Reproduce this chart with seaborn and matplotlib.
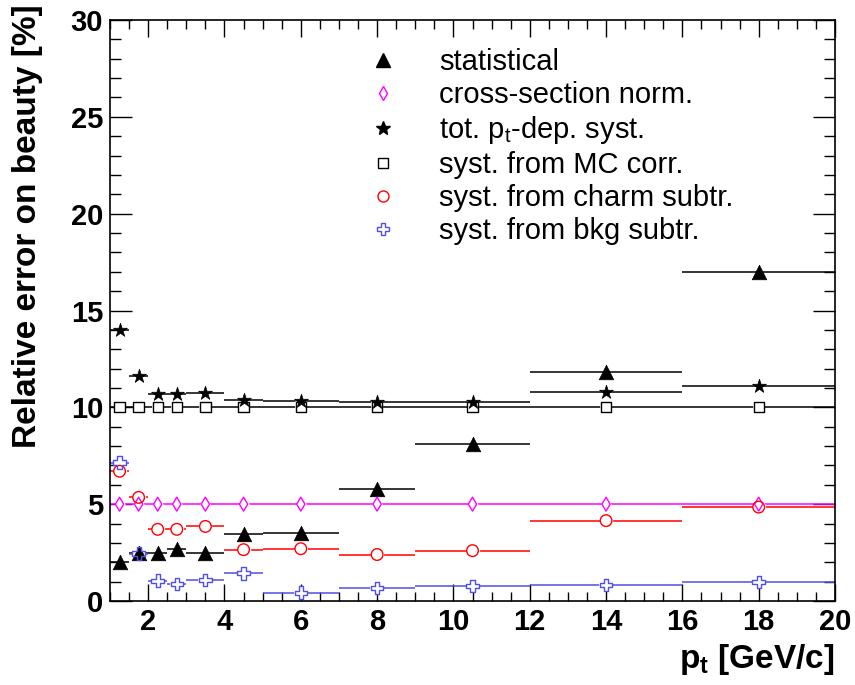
import numpy as np
import pandas as pd
import seaborn as sns
import matplotlib.pyplot as plt
from matplotlib.lines import Line2D
from matplotlib.ticker import MultipleLocator

# bins in pt [GeV/c]
pt_lo = [1.0, 1.5, 2.0, 2.5, 3.0, 4.0, 5.0, 7.0, 9.0, 12.0, 16.0]
pt_hi = [1.5, 2.0, 2.5, 3.0, 4.0, 5.0, 7.0, 9.0, 12.0, 16.0, 20.0]
pt = [1.25, 1.75, 2.25, 2.75, 3.5, 4.5, 6.0, 8.0, 10.5, 14.0, 18.0]

# relative errors [%]
stat = [2.0, 2.5, 2.5, 2.7, 2.5, 3.45, 3.5, 5.8, 8.1, 11.85, 17.0]
xsec_norm = [5.0, 5.0, 5.0, 5.0, 5.0, 5.0, 5.0, 5.0, 5.0, 5.0, 5.0]
tot_syst = [14.0, 11.6, 10.7, 10.7, 10.75, 10.4, 10.35, 10.3, 10.3, 10.8, 11.1]
mc_corr = [10.0, 10.0, 10.0, 10.0, 10.0, 10.0, 10.0, 10.0, 10.0, 10.0, 10.0]
charm_sub = [6.7, 5.35, 3.7, 3.7, 3.85, 2.65, 2.7, 2.4, 2.6, 4.15, 4.85]
bkg_sub = [7.15, 2.45, 1.05, 0.88, 1.08, 1.43, 0.43, 0.68, 0.76, 0.82, 0.97]

labels = ['statistical', 'cross-section norm.', r'tot. p$_{\mathrm{t}}$-dep. syst.',
          'syst. from MC corr.', 'syst. from charm subtr.', 'syst. from bkg subtr.']

# (values, marker, size, color, filled)
series = [
    (stat, '^', 110, 'black', True),
    (xsec_norm, 'd', 50, '#ff00ff', False),
    (tot_syst, '*', 110, 'black', True),
    (mc_corr, 's', 55, 'black', False),
    (charm_sub, 'o', 70, '#ff0000', False),
    (bkg_sub, 'P', 80, '#5050e6', False),
]

sns.set_theme(style='ticks')
plt.rcParams['font.family'] = ['Liberation Sans', 'DejaVu Sans']
plt.rcParams['mathtext.fontset'] = 'custom'
plt.rcParams['mathtext.rm'] = 'Liberation Sans'
plt.rcParams['mathtext.bf'] = 'Liberation Sans:bold'
plt.rcParams['text.color'] = 'black'
plt.rcParams['axes.labelcolor'] = 'black'

fig = plt.figure(figsize=(8.55, 6.85), dpi=100)
ax = fig.add_axes([110 / 855, 84 / 685, 725 / 855, 581 / 685])

handles = []
for (vals, mk, s, col, filled), lab in zip(series, labels):
    df = pd.DataFrame({'pt': pt, 'lo': pt_lo, 'hi': pt_hi, 'err': vals})
    ax.hlines(df['err'], df['lo'], df['hi'], colors=col, linewidth=1.1, zorder=2)
    if filled:
        sns.scatterplot(data=df, x='pt', y='err', marker=mk, s=s, color=col,
                        edgecolor=col, linewidth=0.5, zorder=4, ax=ax)
    else:
        # white body hides the bin line, outline drawn on top of everything
        sns.scatterplot(data=df, x='pt', y='err', marker=mk, s=s, color='white',
                        edgecolor='white', linewidth=1.2, zorder=3, ax=ax)
        sns.scatterplot(data=df, x='pt', y='err', marker=mk, s=s, color=col,
                        facecolor='none', edgecolor=col, linewidth=1.0, zorder=5, ax=ax)
    handles.append(Line2D([], [], linestyle='none', marker=mk, markersize=np.sqrt(s) * 0.95,
                          color=col, markerfacecolor=col if filled else 'none',
                          markeredgewidth=1.0, label=lab))

ax.set_xlim(1, 20)
ax.set_ylim(0, 30)
ax.xaxis.set_major_locator(MultipleLocator(2))
ax.xaxis.set_minor_locator(MultipleLocator(0.5))
ax.yaxis.set_major_locator(MultipleLocator(5))
ax.yaxis.set_minor_locator(MultipleLocator(1))
ax.tick_params(axis='both', which='both', direction='in', top=True, right=True,
               width=1, colors='black')
ax.tick_params(axis='x', which='major', length=12.5, pad=5)
ax.tick_params(axis='x', which='minor', length=6.5)
ax.tick_params(axis='y', which='major', length=16, pad=5)
ax.tick_params(axis='y', which='minor', length=8)
for lab in ax.get_xticklabels() + ax.get_yticklabels():
    lab.set_fontsize(21)
    lab.set_fontweight('bold')
for sp in ax.spines.values():
    sp.set_linewidth(1.2)
    sp.set_color('black')

ax.set_xlabel(r'$\mathbf{p}_{\mathbf{t}}$ [GeV/c]', fontsize=24, fontweight='bold',
              loc='right', color='black')
ax.xaxis.set_label_coords(1.0, -0.07)
ax.set_ylabel('Relative error on beauty [%]', fontsize=24, fontweight='bold',
              loc='top', color='black')
ax.yaxis.set_label_coords(-0.092, 1.027)

ax.legend(handles=handles, loc='upper left', bbox_to_anchor=(368 / 855, 1 - 48 / 685),
          bbox_transform=fig.transFigure, frameon=False, fontsize=21,
          handlelength=1.0, handletextpad=1.45, labelspacing=0.17,
          borderpad=0, borderaxespad=0, labelcolor='black')

fig.savefig('out.png', dpi=100)
